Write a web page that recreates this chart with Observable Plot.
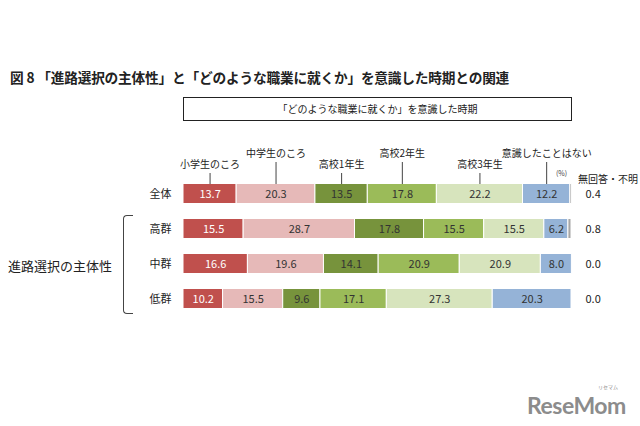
<!DOCTYPE html>
<html>
<head>
<meta charset="utf-8">
<script src="https://cdn.jsdelivr.net/npm/d3@7"></script>
<script src="https://cdn.jsdelivr.net/npm/@observablehq/plot@0.6"></script>
<style>
  html, body { margin: 0; padding: 0; background: #fff; }
  #wrap { position: relative; width: 640px; height: 426px; overflow: hidden; font-family: "Noto Sans CJK JP", "Noto Sans", sans-serif; color: #222; }
  #wrap svg { position: absolute; left: 0; top: 0; }
  .abs { position: absolute; white-space: nowrap; }
  #title { left: 10px; top: 67px; font-size: 13.7px; font-weight: bold; color: #222; letter-spacing: -0.2px; }
  #box { left: 183px; top: 97px; width: 387px; height: 22px; border: 1px solid #222; font-size: 10px; text-align: center; line-height: 22px; }
  #side { left: 8px; top: 256px; font-size: 13px; }
  #bracket { left: 123px; top: 215px; width: 9px; height: 97px; border-left: 1px solid #444; border-top: 1px solid #444; border-bottom: 1px solid #444; border-radius: 4px 0 0 4px; }
  #pct { left: 556px; top: 168px; font-size: 7px; color: #444; }
  #nr { left: 578px; top: 171px; font-size: 10px; }
  #logo { left: 527px; top: 392px; font-size: 23px; font-weight: bold; color: #8c8c8c; font-family: "Lato", "DejaVu Sans", sans-serif; letter-spacing: -0.5px; line-height: 26px; }
  #logo2 { left: 598px; top: 384px; font-size: 5px; line-height: 6px; color: #8c8c8c; }
</style>
</head>
<body>
<div id="wrap">
  <div class="abs" id="title">図 8 「進路選択の主体性」と「どのような職業に就くか」を意識した時期との関連</div>
  <div class="abs" id="box">「どのような職業に就くか」を意識した時期</div>
  <div class="abs" id="side">進路選択の主体性</div>
  <div class="abs" id="bracket"></div>
  <div class="abs" id="pct">(%)</div>
  <div class="abs" id="nr">無回答・不明</div>
  <div class="abs" id="logo">ReseMom</div>
  <div class="abs" id="logo2">リセマム</div>
</div>
<script>
const categories = ["小学生のころ", "中学生のころ", "高校1年生", "高校2年生", "高校3年生", "意識したことはない", "無回答・不明"];
const groups = ["全体", "高群", "中群", "低群"];
const zentai = [13.7, 20.3, 13.5, 17.8, 22.2, 12.2, 0.4];
const kougun = [15.5, 28.7, 17.8, 15.5, 15.5, 6.2, 0.8];
const chuugun = [16.6, 19.6, 14.1, 20.9, 20.9, 8.0, 0.0];
const teigun = [10.2, 15.5, 9.6, 17.1, 27.3, 20.3, 0.0];
const colors = ["#C0504D", "#E6B9B8", "#77933C", "#9BBB59", "#D7E4BD", "#95B3D7", "#A6A6A6"];
const highLabels = ["中学生のころ", "高校2年生", "意識したことはない"];

const series = [zentai, kougun, chuugun, teigun];
const data = [];
groups.forEach((g, gi) => {
  categories.forEach((c, ci) => {
    data.push({group: g, cat: c, value: series[gi][ci]});
  });
});
const topData = data.filter(d => d.group === "全体");
const naData = data.filter(d => d.cat === "無回答・不明");
const isNA = d => d.cat === "無回答・不明";
const isHigh = d => highLabels.includes(d.cat);

const font = "'Noto Sans CJK JP', 'Noto Sans', sans-serif";

const chart = Plot.plot({
  width: 640,
  height: 426,
  marginLeft: 183,
  marginRight: 69,
  marginTop: 175.5,
  marginBottom: 110.5,
  style: {fontFamily: font, fontSize: "11px", color: "#222", background: "transparent"},
  x: {domain: [0, 100], axis: null},
  y: {domain: groups, padding: 0, tickSize: 0, tickPadding: 12, label: null},
  color: {domain: categories, range: colors},
  marks: [
    Plot.barX(data, Plot.stackX({x: "value", y: "group", fill: "cat", insetTop: 7.5, insetBottom: 7.5, stroke: "white", strokeWidth: 1})),
    Plot.text(data, Plot.stackX({x: "value", y: "group", z: "cat", text: d => isNA(d) ? "" : d.value.toFixed(1), fill: d => d.cat === "小学生のころ" ? "#ffffff" : "#333333", fontSize: 11})),
    Plot.tickX(topData, Plot.stackX({x: "value", y: "group", z: "cat", strokeOpacity: d => (isHigh(d) && !isNA(d)) ? 1 : 0, insetTop: 0, insetBottom: 13, dy: -14, stroke: "#444", strokeWidth: 1})),
    Plot.tickX(topData, Plot.stackX({x: "value", y: "group", z: "cat", strokeOpacity: d => (!isHigh(d) && !isNA(d)) ? 1 : 0, insetTop: 0, insetBottom: 24, dy: -3, stroke: "#444", strokeWidth: 1})),
    Plot.text(topData, Plot.stackX({x: "value", y: "group", z: "cat", text: d => (isHigh(d) && !isNA(d)) ? d.cat : "", dy: -40, fontSize: 10, fill: "#222"})),
    Plot.text(topData, Plot.stackX({x: "value", y: "group", z: "cat", text: d => (!isHigh(d) && !isNA(d)) ? d.cat : "", dy: -29, fontSize: 10, fill: "#222"})),
    Plot.text(naData, {y: "group", frameAnchor: "right", textAnchor: "start", dx: 14, text: d => d.value.toFixed(1), fontSize: 11, fill: "#222"})
  ]
});
document.getElementById("wrap").prepend(chart);
</script>
</body>
</html>
